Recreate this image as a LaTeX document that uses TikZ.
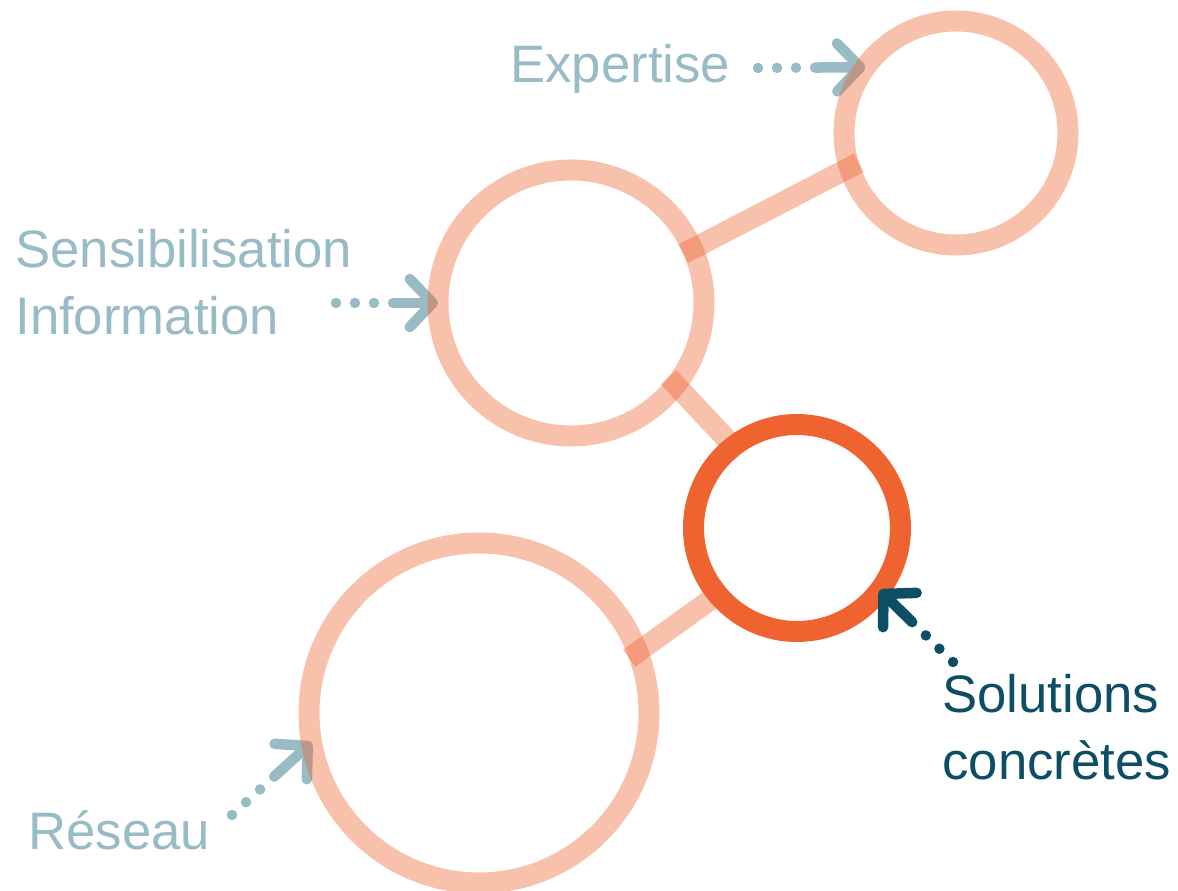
\documentclass[tikz,border=0pt]{standalone}
\usepackage{fontspec}
\setmainfont{Liberation Sans}
\usetikzlibrary{backgrounds}
\usetikzlibrary{arrows.meta}
\definecolor{ringorange}{HTML}{EE6330}
\definecolor{labelgrey}{HTML}{98BBC5}
\definecolor{labeldark}{HTML}{0D4E65}
\newcommand{\ringwidth}{0.42cm}
\newcommand{\ringgap}{-0.21cm}
\newcommand{\leadwidth}{0.21cm}
\newcommand{\dotgap}{0.38cm}
\tikzset{
  ring/.style={circle, draw=ringorange, line width=\ringwidth,
    inner sep=0pt, outer sep=0pt},
  faded/.style={draw opacity=0.4},
  link/.style={draw=ringorange, draw opacity=0.4, line width=\ringwidth,
    shorten <=\ringgap, shorten >=\ringgap},
  lead/.style={line width=\leadwidth, line cap=round,
    dash pattern=on 0pt off \dotgap on 0pt off \dotgap on 0pt off \dotgap on 5cm,
    -{Straight Barb[length=0.46cm,width=0.96cm,round]}},
  tag/.style={font=\fontsize{30}{38.6}\selectfont, align=left,
    inner sep=0pt, anchor=base west},
}
\begin{document}
\begin{tikzpicture}
    \useasboundingbox (0,0) rectangle (23.56,17.82);
    % rings
    \node[ring, faded, minimum size=4.48cm] (expertise) at (19.12,15.16) {};
    \node[ring, faded, minimum size=5.32cm] (sensib) at (11.42,11.76) {};
    \node[ring, faded, minimum size=6.80cm] (reseau) at (9.58,3.56) {};
    \node[ring, minimum size=4.14cm] (solutions) at (15.94,7.26) {};
    % labels (base is the last line)
    \node[tag, text=labelgrey] (expertisetxt) at (10.2,16.16) {Expertise};
    \node[tag, text=labelgrey] (sensibtxt) at (0.30,11.12)
      {Sensibilisation\\Information};
    \node[tag, text=labelgrey] (reseautxt) at (0.56,0.82) {Réseau};
    \node[tag, text=labeldark] (solutionstxt) at (18.84,2.22)
      {Solutions\\concrètes};
    % pointer ends
    \coordinate (expertisefrom) at (15.16,16.46);
    \coordinate (sensibfrom) at (6.72,11.76);
    \coordinate (reseaufrom) at (4.64,1.52);
    \coordinate (solutionsfrom) at (19.06,4.58);
    \draw[lead, labeldark] (solutionsfrom) -- (solutions.-37);
    \begin{scope}[on background layer]
      % links between rings
      \draw[link] (sensib.24) -- (expertise.198);
      \draw[link] (sensib.-38) -- (solutions.128);
      \draw[link] (reseau.21) -- (solutions.220);
      % grey pointers
      \draw[lead, labelgrey] (expertisefrom) -- (expertise.144);
      \draw[lead, labelgrey] (sensibfrom) -- (sensib.180);
      \draw[lead, labelgrey] (reseaufrom) -- (reseau.190);
    \end{scope}
\end{tikzpicture}
\end{document}
